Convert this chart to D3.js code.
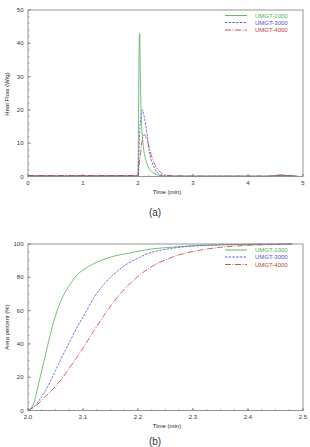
<!DOCTYPE html>
<html lang="en">
<head>
<meta charset="UTF-8">
<script src="https://d3js.org/d3.v7.min.js"></script>
<title>heat flow and area percent</title>
<style>
  body { margin: 0; background: #fff; }
  text { font-family: "Liberation Sans", Arial, sans-serif; }
  .tick-label { font-size: 6px; fill: #333; }
  .axis-title { font-size: 6px; fill: #222; }
  .panel-label { font-size: 10px; fill: #333; }
  .legend text { font-size: 6px; }
</style>
</head>
<body>
<svg id="chart" width="310" height="447"></svg>
<script>
// ---- data ----
const seriesNames = ["UMGT-1000", "UMGT-3000", "UMGT-4000"];

// (a) heat flow vs time
const timeA = [0, 0.5, 1.0, 1.5, 1.98, 2.0, 2.01, 2.02, 2.03, 2.04, 2.05, 2.06, 2.07, 2.08, 2.09, 2.1,
  2.12, 2.14, 2.17, 2.2, 2.25, 2.3, 2.35, 2.4, 2.45, 2.5, 2.6, 2.8, 3.0, 3.5, 4.0, 4.4, 4.5, 4.6, 4.7, 4.8, 4.9];
const heat1000 = [0.2, 0.2, 0.2, 0.2, 0.2, 0.5, 18, 38, 43, 33, 24, 18, 14.5, 12, 10, 8.5,
  6.5, 5, 3.5, 2.4, 1.4, 0.8, 0.5, 0.3, 0.2, 0.15, 0.1, 0.1, 0.1, 0.1, 0.1, 0.1, 0.3, 0.4, 0.3, 0.2, 0.1];
const heat3000 = [0.2, 0.2, 0.2, 0.2, 0.2, 0.5, 4, 9, 13, 16, 18, 19.3, 19.9, 20, 19.5, 18.8,
  17.5, 15.5, 12, 8, 4.5, 2.5, 1.2, 0.6, 0.3, 0.2, 0.15, 0.1, 0.1, 0.1, 0.1, 0.1, 0.3, 0.4, 0.3, 0.2, 0.1];
const heat4000 = [0.3, 0.3, 0.3, 0.3, 0.3, 0.3, 1.5, 3, 4.5, 6, 7.5, 9, 10.2, 11.2, 12, 12.4,
  12.5, 12, 10.8, 9, 6, 3.8, 2.3, 1.4, 0.8, 0.5, 0.25, 0.15, 0.1, 0.1, 0.1, 0.1, 0.3, 0.4, 0.3, 0.2, 0.1];

// (b) area percent vs time
const timeB = [2.0, 2.01, 2.02, 2.03, 2.04, 2.05, 2.06, 2.07, 2.08, 2.09, 2.1, 2.12, 2.14, 2.16, 2.18,
  2.2, 2.22, 2.25, 2.28, 2.3, 2.35, 2.4, 2.45, 2.48];
const area1000 = [0, 4, 17, 31, 45, 57, 66, 72.5, 77.5, 81.8, 84.3, 88.3, 91, 93, 94.3,
  95.6, 96.8, 97.8, 98.5, 98.9, 99.5, 99.8, 99.9, 100];
const area3000 = [0, 2, 6, 11, 17, 24, 31, 37.5, 44, 50.5, 56, 68, 76.5, 83, 88,
  91.5, 94.5, 96.8, 98.2, 98.8, 99.5, 99.8, 99.9, 100];
const area4000 = [0, 2, 4.5, 8, 11, 14.5, 18.5, 23, 27.8, 32.5, 37.5, 48, 58, 67, 74.5,
  80.5, 85.5, 90.5, 94, 95.5, 98, 99.2, 99.7, 99.9];

const ticksA_x = [0, 1, 2, 3, 4, 5];
const ticksA_y = [0, 10, 20, 30, 40, 50];
const ticksB_x = [2.0, 2.1, 2.2, 2.3, 2.4, 2.5];
const ticksB_y = [0, 20, 40, 60, 80, 100];

// ---- styles ----
const colors = ["#52ad52", "#4f4fdc", "#bb4040"];
const dashes = [null, "2.5,1.2", "6,1.5,1,1.5"];

const svg = d3.select("#chart");

function panel(opts) {
  const x = d3.scaleLinear().domain(opts.xDomain).range([28, 303]);
  const y = d3.scaleLinear().domain(opts.yDomain).range([opts.bottom, opts.top]);
  const g = svg.append("g");

  // minor + major inward ticks
  const xMinor = d3.range(opts.xDomain[0], opts.xDomain[1] + 1e-9, opts.xMinor);
  const yMinor = d3.range(opts.yDomain[0], opts.yDomain[1] + 1e-9, opts.yMinor);
  g.append("g").selectAll("line").data(xMinor).join("line")
    .attr("x1", d => x(d)).attr("x2", d => x(d))
    .attr("y1", opts.bottom).attr("y2", opts.bottom - 1.5)
    .attr("stroke", "#777").attr("stroke-width", 0.6);
  g.append("g").selectAll("line").data(yMinor).join("line")
    .attr("y1", d => y(d)).attr("y2", d => y(d))
    .attr("x1", 28).attr("x2", 29.5)
    .attr("stroke", "#777").attr("stroke-width", 0.6);
  g.append("g").selectAll("line").data(opts.xTicks).join("line")
    .attr("x1", d => x(d)).attr("x2", d => x(d))
    .attr("y1", opts.bottom).attr("y2", opts.bottom - 2.5)
    .attr("stroke", "#555").attr("stroke-width", 0.7);
  g.append("g").selectAll("line").data(opts.yTicks).join("line")
    .attr("y1", d => y(d)).attr("y2", d => y(d))
    .attr("x1", 28).attr("x2", 30.5)
    .attr("stroke", "#555").attr("stroke-width", 0.7);

  // tick labels
  g.append("g").selectAll("text").data(opts.xTicks).join("text")
    .attr("class", "tick-label")
    .attr("x", d => x(d)).attr("y", opts.bottom + 8.5)
    .attr("text-anchor", "middle")
    .text(d => opts.xFmt(d));
  g.append("g").selectAll("text").data(opts.yTicks).join("text")
    .attr("class", "tick-label")
    .attr("x", 23.5).attr("y", d => y(d) + 2)
    .attr("text-anchor", "end")
    .text(d => d);

  // curves
  const line = d3.line().x(d => x(d[0])).y(d => y(d[1])).curve(d3.curveMonotoneX);
  opts.series.forEach((vals, i) => {
    g.append("path")
      .datum(opts.times.map((t, k) => [t, vals[k]]))
      .attr("d", line)
      .attr("fill", "none")
      .attr("stroke", colors[i])
      .attr("stroke-width", 0.8)
      .attr("stroke-dasharray", dashes[i]);
  });

  // frame
  g.append("rect")
    .attr("x", 28).attr("y", opts.top)
    .attr("width", 275).attr("height", opts.bottom - opts.top)
    .attr("fill", "none").attr("stroke", "#8a8a8a").attr("stroke-width", 0.9);

  // axis titles
  g.append("text").attr("class", "axis-title")
    .attr("x", 167).attr("y", opts.bottom + 17)
    .attr("text-anchor", "middle").text("Time (min)");
  g.append("text").attr("class", "axis-title")
    .attr("transform", `translate(9,${opts.yTitleY}) rotate(-90)`)
    .attr("text-anchor", "middle").text(opts.yTitle);

  // legend
  const lg = g.append("g").attr("class", "legend");
  opts.legendY.forEach((ly, i) => {
    lg.append("line")
      .attr("x1", 225).attr("x2", 247).attr("y1", ly).attr("y2", ly)
      .attr("stroke", colors[i]).attr("stroke-width", 0.9)
      .attr("stroke-dasharray", dashes[i]);
    lg.append("text")
      .attr("x", 255).attr("y", ly + 2)
      .attr("fill", colors[i])
      .text(seriesNames[i]);
  });

  // panel label
  svg.append("text").attr("class", "panel-label")
    .attr("x", 155).attr("y", opts.labelY)
    .attr("text-anchor", "middle").text(opts.label);
}

panel({
  xDomain: [0, 5], yDomain: [0, 50], top: 10, bottom: 176.5,
  xTicks: ticksA_x, yTicks: ticksA_y, xMinor: 0.2, yMinor: 2,
  xFmt: d => d, times: timeA, series: [heat1000, heat3000, heat4000],
  yTitle: "Heat Flow (W/g)", yTitleY: 94, legendY: [15.5, 22.5, 30],
  label: "(a)", labelY: 216
});

panel({
  xDomain: [2.0, 2.5], yDomain: [0, 100], top: 244, bottom: 410.5,
  xTicks: ticksB_x, yTicks: ticksB_y, xMinor: 0.025, yMinor: 5,
  xFmt: d => d.toFixed(1), times: timeB, series: [area1000, area3000, area4000],
  yTitle: "Area percent (%)", yTitleY: 327, legendY: [250, 257, 264.5],
  label: "(b)", labelY: 445
});
</script>
</body>
</html>
